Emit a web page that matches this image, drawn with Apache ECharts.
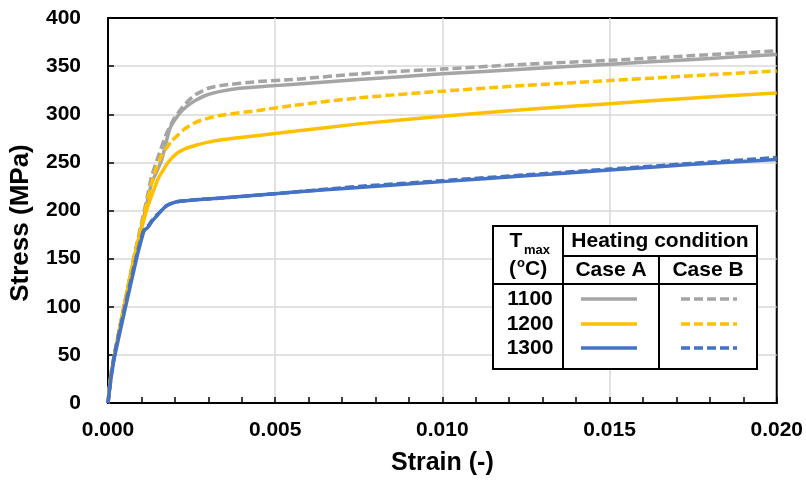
<!DOCTYPE html>
<html>
<head>
<meta charset="utf-8">
<script src="https://cdn.jsdelivr.net/npm/echarts@6/dist/echarts.min.js"></script>
<style>
  html, body { margin: 0; padding: 0; background: #fff; }
</style>
</head>
<body>
<div id="chart" style="width: 806px; height: 485px;"></div>
<script>
// stress-strain curves, [strain, stress (MPa)]
const t1100A = [[0, 0], [0.0001, 32], [0.00076, 147], [0.00115, 205], [0.0013, 228], [0.0016, 252], [0.00185, 285], [0.0021, 299], [0.00235, 308], [0.0026, 314], [0.00295, 320], [0.0034, 324], [0.00394, 327], [0.0047, 329], [0.0055, 331], [0.0075, 336], [0.010, 342], [0.0125, 347], [0.015, 352], [0.0175, 357], [0.020, 362]];
const t1100B = [[0, 0], [0.0001, 33], [0.00076, 149], [0.00115, 210], [0.0013, 235], [0.0015, 256], [0.00175, 280], [0.00195, 294], [0.00215, 304], [0.0024, 314], [0.00265, 321], [0.003, 327], [0.0034, 330], [0.0045, 334], [0.0055, 336], [0.0075, 342], [0.010, 347], [0.0125, 352], [0.015, 356], [0.0175, 361], [0.020, 366]];
const t1200A = [[0, 0], [0.0001, 32], [0.00076, 147], [0.00115, 200], [0.0013, 215], [0.0015, 233], [0.00165, 242], [0.0018, 250], [0.00205, 259], [0.0023, 264], [0.00265, 268], [0.003, 271], [0.0034, 273.5], [0.0045, 278], [0.0055, 282], [0.0075, 290], [0.010, 298], [0.0125, 305], [0.015, 311], [0.0175, 317], [0.020, 322]];
const t1200B = [[0, 0], [0.0001, 32], [0.00076, 148], [0.00115, 206], [0.0013, 228], [0.00145, 245], [0.0016, 257], [0.00175, 265], [0.0019, 272], [0.00205, 277], [0.0023, 285], [0.00265, 292], [0.003, 296], [0.0034, 299], [0.0045, 304], [0.0055, 309], [0.0075, 317], [0.010, 324], [0.0125, 330], [0.015, 335], [0.0175, 340], [0.020, 345]];
const t1300A = [[0, 0], [0.0001, 28], [0.00022, 52], [0.00084, 148], [0.00105, 176], [0.0011, 180], [0.00118, 182], [0.0013, 188], [0.00145, 194], [0.0016, 200], [0.00175, 205], [0.00195, 208], [0.00215, 209.5], [0.00275, 211.5], [0.0034, 213], [0.0045, 216], [0.0055, 219], [0.0075, 224], [0.010, 230], [0.0125, 236], [0.015, 242], [0.0175, 248], [0.020, 253]];
const t1300B = [[0, 0], [0.0001, 29], [0.0002, 52], [0.00082, 148], [0.00103, 176], [0.0011, 181], [0.0012, 184], [0.0013, 189], [0.00145, 195], [0.0016, 200], [0.00175, 205], [0.00195, 208], [0.00215, 209.5], [0.00275, 211.5], [0.0034, 213], [0.0045, 216], [0.0055, 219], [0.0075, 225], [0.010, 231], [0.0125, 237], [0.015, 243], [0.0175, 249], [0.020, 255]];

const tempLabels = ['1100', '1200', '1300'];
const caseLabels = ['Case A', 'Case B'];
const colors = ['#A5A5A5', '#FFC000', '#4472C4'];

const FONT = '"Liberation Sans", Arial, sans-serif';
const dash = [9, 4];

function mkSeries(name, data, color, dashed) {
  return {
    type: 'line',
    name: name,
    data: data,
    showSymbol: false,
    smooth: 0.2,
    lineStyle: { color: color, width: 3.5, type: dashed ? dash : 'solid', join: 'round' },
    z: 3
  };
}

const seriesList = [
  mkSeries('1100 A', t1100A, colors[0], false),
  mkSeries('1100 B', t1100B, colors[0], true),
  mkSeries('1200 A', t1200A, colors[1], false),
  mkSeries('1200 B', t1200B, colors[1], true),
  mkSeries('1300 A', t1300A, colors[2], false),
  mkSeries('1300 B', t1300B, colors[2], true)
];

// table legend box (pixel layout)
const tb = { l: 493, r: 757, t: 226, b: 369, c1: 563, c2: 659, h1: 256, h2: 284 };
const rowY = [299, 324, 348];
const tf = 'bold 21px ' + FONT;

const graphics = [
  { type: 'rect', shape: { x: tb.l, y: tb.t, width: tb.r - tb.l, height: tb.b - tb.t },
    style: { fill: '#fff', stroke: '#000', lineWidth: 2 } },
  { type: 'line', shape: { x1: tb.c1, y1: tb.t, x2: tb.c1, y2: tb.b }, style: { stroke: '#000', lineWidth: 2 } },
  { type: 'line', shape: { x1: tb.c2, y1: tb.h1, x2: tb.c2, y2: tb.b }, style: { stroke: '#000', lineWidth: 2 } },
  { type: 'line', shape: { x1: tb.c1, y1: tb.h1, x2: tb.r, y2: tb.h1 }, style: { stroke: '#000', lineWidth: 2 } },
  { type: 'line', shape: { x1: tb.l, y1: tb.h2, x2: tb.r, y2: tb.h2 }, style: { stroke: '#000', lineWidth: 2 } },
  { type: 'text', x: 516, y: 241, style: { text: 'T', font: tf, fill: '#000', align: 'center', verticalAlign: 'middle' } },
  { type: 'text', x: 524, y: 250, style: { text: 'max', font: 'bold 13px ' + FONT, fill: '#000', align: 'left', verticalAlign: 'middle' } },
  { type: 'text', x: 509, y: 269, style: { text: '(', font: tf, fill: '#000', align: 'left', verticalAlign: 'middle' } },
  { type: 'text', x: 517, y: 263, style: { text: 'o', font: 'bold 13px ' + FONT, fill: '#000', align: 'left', verticalAlign: 'middle' } },
  { type: 'text', x: 525, y: 269, style: { text: 'C)', font: tf, fill: '#000', align: 'left', verticalAlign: 'middle' } },
  { type: 'text', x: (tb.c1 + tb.r) / 2, y: 241, style: { text: 'Heating condition', font: tf, fill: '#000', align: 'center', verticalAlign: 'middle' } },
  { type: 'text', x: (tb.c1 + tb.c2) / 2, y: 270, style: { text: caseLabels[0], font: tf, fill: '#000', align: 'center', verticalAlign: 'middle' } },
  { type: 'text', x: (tb.c2 + tb.r) / 2, y: 270, style: { text: caseLabels[1], font: tf, fill: '#000', align: 'center', verticalAlign: 'middle' } },
  // y axis title, placed by hand (sits a bit below the plot centre)
  { type: 'text', x: 21, y: 223, rotation: Math.PI / 2,
    style: { text: 'Stress (MPa)', font: 'bold 26px ' + FONT, fill: '#000', align: 'center', verticalAlign: 'middle' } }
];

tempLabels.forEach(function (lab, i) {
  graphics.push({ type: 'text', x: (tb.l + tb.c1) / 2 + 2, y: rowY[i], style: { text: lab, font: tf, fill: '#000', align: 'center', verticalAlign: 'middle' } });
  graphics.push({ type: 'line', shape: { x1: 581, y1: rowY[i], x2: 637, y2: rowY[i] }, style: { stroke: colors[i], lineWidth: 3.5 } });
  graphics.push({ type: 'line', shape: { x1: 681, y1: rowY[i], x2: 737, y2: rowY[i] }, style: { stroke: colors[i], lineWidth: 3.5, lineDash: [9, 4] } });
});

const option = {
  animation: false,
  backgroundColor: '#fff',
  textStyle: { fontFamily: FONT },
  grid: {
    left: 108, right: 28, top: 18, bottom: 82,
    show: true, borderColor: '#000', borderWidth: 2
  },
  xAxis: {
    type: 'value',
    min: 0, max: 0.02, interval: 0.005,
    name: 'Strain (-)',
    nameLocation: 'middle',
    nameGap: 48,
    nameTextStyle: { fontSize: 25, fontWeight: 'bold', color: '#000', fontFamily: FONT },
    axisLine: { show: true, lineStyle: { color: '#000', width: 2 } },
    axisTick: { show: true, inside: true, length: 6, lineStyle: { color: '#000', width: 1.5 } },
    minorTick: { show: true, splitNumber: 5, length: 6, lineStyle: { color: '#000', width: 1.5 } },
    axisLabel: {
      margin: 17, fontSize: 21, fontWeight: 'bold', color: '#000', fontFamily: FONT,
      formatter: function (v) { return v.toFixed(3); }
    },
    splitLine: { show: true, showMinLine: false, showMaxLine: false, lineStyle: { color: '#d9d9d9', width: 1.5 } }
  },
  yAxis: {
    type: 'value',
    min: 0, max: 400, interval: 50,
    axisLine: { show: true, lineStyle: { color: '#000', width: 2 } },
    axisTick: { show: true, inside: true, length: 6, lineStyle: { color: '#000', width: 1.5 } },
    axisLabel: { margin: 27, fontSize: 21, fontWeight: 'bold', color: '#000', fontFamily: FONT },
    splitLine: { show: true, showMinLine: false, showMaxLine: false, lineStyle: { color: '#d9d9d9', width: 1.5 } }
  },
  series: seriesList,
  graphic: { elements: graphics.map(function (g) { g.z = 100; return g; }) }
};

const myChart = echarts.init(document.getElementById('chart'));
myChart.setOption(option);
</script>
</body>
</html>
